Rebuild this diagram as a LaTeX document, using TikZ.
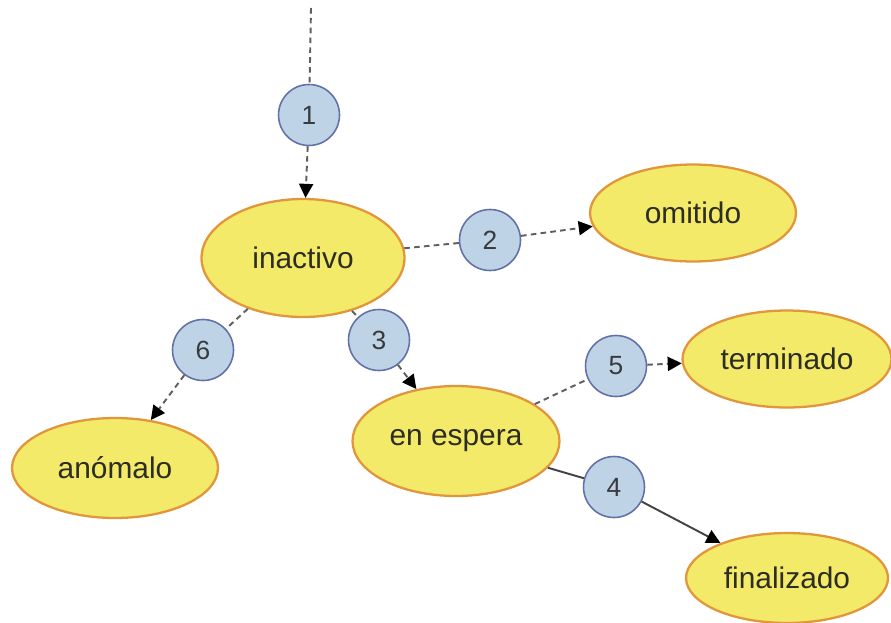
\documentclass[tikz,border=0pt]{standalone}
\usepackage{fontspec}
\setmainfont{Liberation Sans}
\usetikzlibrary{arrows.meta,shapes.geometric}
\definecolor{estadoFill}{RGB}{242,234,104}
\definecolor{estadoLine}{RGB}{226,150,60}
\definecolor{pasoFill}{RGB}{190,212,230}
\definecolor{pasoLine}{RGB}{100,112,168}
\definecolor{linkGray}{RGB}{95,95,95}
\definecolor{textDark}{RGB}{45,45,35}
\tikzset{
	estado/.style={ellipse, draw=estadoLine, fill=estadoFill, line width=1.3pt, inner sep=0pt,
		text=textDark, font=\fontsize{17}{20}\selectfont},
	paso/.style={circle, draw=pasoLine, fill=pasoFill, line width=0.9pt, minimum size=1.22cm, inner sep=0pt,
		text=textDark!80!pasoLine, font=\fontsize{15}{18}\selectfont},
	link/.style={linkGray, line width=1.1pt, dash pattern=on 3.2pt off 2.4pt},
	flecha/.style={-{Triangle[length=8pt,width=8pt,black]}},
}
\begin{document}
\begin{tikzpicture}[x=0.02cm, y=-0.02cm]
	\useasboundingbox (0,0) rectangle (891,622);

	% estados
	\node[estado, minimum width=4.06cm, minimum height=2.36cm] (inactivo) at (303,258) {inactivo};
	\node[estado, minimum width=4.12cm, minimum height=1.94cm] (omitido) at (693,213) {omitido};
	\node[estado, minimum width=4.18cm, minimum height=1.94cm] (terminado) at (787,359) {terminado};
	\node[estado, minimum width=4.14cm, minimum height=2.20cm] (espera) at (456,441) {en espera};
	\node[estado, minimum width=4.12cm, minimum height=2.00cm] (anomalo) at (115,468) {anómalo};
	\node[estado, minimum width=4.04cm, minimum height=1.80cm] (finalizado) at (787,578) {finalizado};

	% pasos
	\node[paso] (p1) at (309,115) {1};
	\node[paso] (p2) at (490,240) {2};
	\node[paso] (p3) at (379,340) {3};
	\node[paso] (p4) at (614,487) {4};
	\node[paso] (p5) at (616,366) {5};
	\node[paso] (p6) at (203,350) {6};

	\coordinate (inicio) at (311,8);

	\draw[link] (inicio) -- (p1);
	\draw[link, flecha] (p1) -- (inactivo);

	\foreach \desde/\paso/\hasta in {inactivo/p2/omitido, inactivo/p3/espera, inactivo/p6/anomalo, espera/p5/terminado} {
		\draw[link] (\desde) -- (\paso);
		\draw[link, flecha] (\paso) -- (\hasta);
	}

	\draw[linkGray!70!black, line width=1.1pt] (espera) -- (p4);
	\draw[linkGray!70!black, line width=1.1pt, flecha] (p4) -- (finalizado);

\end{tikzpicture}
\end{document}
